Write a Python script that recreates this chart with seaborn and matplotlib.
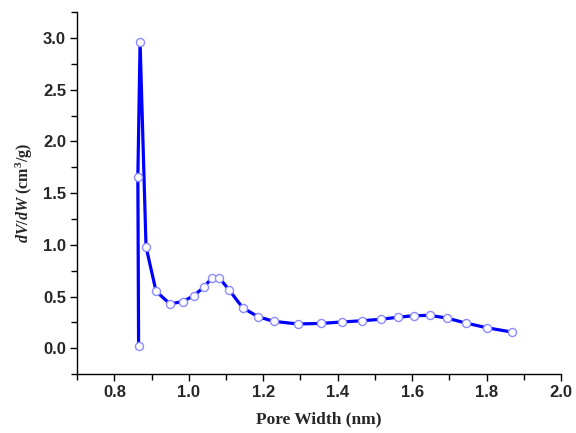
import numpy as np
import pandas as pd
import matplotlib
matplotlib.use("Agg")
import matplotlib.pyplot as plt
from matplotlib.ticker import MultipleLocator, FormatStrFormatter
import seaborn as sns

# Pore size distribution (DFT), pore width in nm vs dV/dW in cm^3/g
pore_width = [0.865, 0.863, 0.869, 0.885, 0.912, 0.949, 0.983, 1.014, 1.040,
              1.061, 1.082, 1.109, 1.145, 1.186, 1.228, 1.293, 1.354, 1.411,
              1.465, 1.515, 1.562, 1.605, 1.648, 1.693, 1.744, 1.800, 1.867]
dv_dw = [0.02, 1.66, 2.96, 0.98, 0.55, 0.43, 0.45, 0.51, 0.59,
         0.675, 0.68, 0.56, 0.39, 0.305, 0.26, 0.235, 0.24, 0.254,
         0.266, 0.28, 0.30, 0.315, 0.318, 0.292, 0.244, 0.199, 0.157]

df = pd.DataFrame({"w": pore_width, "v": dv_dw})

sns.set_theme(style="ticks")
plt.rcParams["font.family"] = ["Liberation Sans", "DejaVu Sans"]
plt.rcParams["mathtext.fontset"] = "custom"
plt.rcParams["mathtext.rm"] = "Liberation Serif:bold"
plt.rcParams["mathtext.it"] = "Liberation Serif:italic:bold"
plt.rcParams["mathtext.bf"] = "Liberation Serif:bold"

fig = plt.figure(figsize=(5.76, 4.33), dpi=100)
ax = fig.add_axes([0.134, 0.136, 0.840, 0.836])

sns.lineplot(data=df, x="w", y="v", sort=False, ax=ax, color="#0000FF",
             linewidth=2.3, marker="o", markersize=5.8, markerfacecolor="white",
             markeredgecolor="#8C8CFF", markeredgewidth=1.0)

ax.set_xlim(0.7, 2.0)
ax.set_ylim(-0.25, 3.25)
ax.xaxis.set_major_locator(MultipleLocator(0.2))
ax.xaxis.set_minor_locator(MultipleLocator(0.1))
ax.yaxis.set_major_locator(MultipleLocator(0.5))
ax.yaxis.set_minor_locator(MultipleLocator(0.25))
ax.xaxis.set_major_formatter(FormatStrFormatter("%.1f"))
ax.yaxis.set_major_formatter(FormatStrFormatter("%.1f"))

for side in ("top", "right"):
    ax.spines[side].set_visible(False)
for side in ("left", "bottom"):
    ax.spines[side].set_color("black")
    ax.spines[side].set_linewidth(1.0)

ax.tick_params(which="major", direction="out", length=5, width=1.0,
               color="black", labelsize=12, pad=3)
ax.tick_params(which="minor", direction="out", length=4, width=1.0, color="black")
for lab in ax.get_xticklabels() + ax.get_yticklabels():
    lab.set_fontweight("bold")

ax.set_xlabel("Pore Width (nm)", fontsize=12.5, fontweight="bold",
              family="Liberation Serif", labelpad=8)
ax.set_ylabel(r"$dV/dW$ (cm$^{3}$/g)", fontsize=11.5, fontweight="bold",
              family="Liberation Serif", labelpad=6)

fig.savefig("out.png", dpi=100)
